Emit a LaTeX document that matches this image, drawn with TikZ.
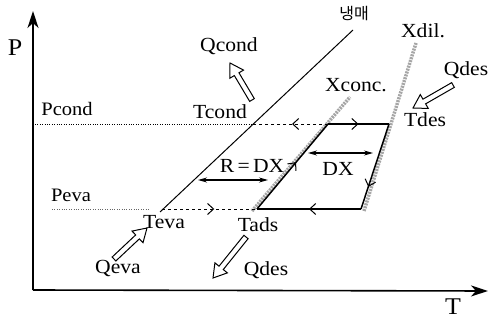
\documentclass[tikz,border=0pt]{standalone}
\usepackage{fontspec}
\setmainfont{Liberation Serif}[FakeStretch=1.08]
\newfontfamily\krfont{Noto Sans CJK KR}
\usetikzlibrary{arrows.meta,decorations.markings,calc}
\newcommand\hollowarrow[2]{%
  \draw[qarrow] let \p1=($(#2)-(#1)$), \n1={atan2(\y1,\x1)}, \n2={veclen(\x1,\y1)} in
    [shift={(#1)}, rotate=\n1] (0,-2.7) -- (\n2-13,-2.7) -- (\n2-13,-8) -- (\n2,0)
    -- (\n2-13,8) -- (\n2-13,2.7) -- (0,2.7) -- cycle;}
\begin{document}
\begin{tikzpicture}[x=1pt,y=-1pt,
  lbl/.style={inner sep=0pt, font=\fontsize{20}{24}\selectfont},
  axislbl/.style={inner sep=0pt, font=\fontsize{24}{28}\selectfont},
  axis/.style={line width=1.6pt, -{Stealth[length=17pt,width=11pt,inset=5pt]}},
  refline/.style={line width=1pt},
  concline/.style={line width=3.5pt, black!35, dash pattern=on 2pt off 1pt},
  dotline/.style={line width=0.6pt, dash pattern=on 0.8pt off 1.6pt},
  dashline/.style={line width=0.8pt, dash pattern=on 3pt off 3pt},
  cycline/.style={line width=1.5pt},
  midarrow/.style={postaction={decorate, decoration={markings,
     mark=at position #1 with {\arrow[line width=1pt]{Straight Barb[length=6pt,width=11pt]}}}}},
  dbl/.style={line width=1.2pt, {Stealth[length=9pt,width=5pt]}-{Stealth[length=9pt,width=5pt]}},
  qarrow/.style={line width=1pt, line join=miter, fill=white},
]
\useasboundingbox (0,0) rectangle (489,320);

% axes
\coordinate (O) at (33,290);
\coordinate (Ptop) at (33,11);
\coordinate (Tend) at (488,291);
\draw[axis] (O) -- (Ptop);
\draw[axis] (O) -- (Tend);
\node[axislbl] (P) at (15,48) {P};
\node[axislbl] (T) at (453,307) {T};

% refrigerant line
\coordinate (R1) at (160,212);
\coordinate (R2) at (353,30);
\draw[refline] (R1) -- (R2);
\node[inner sep=0pt, font=\fontsize{16}{18}\selectfont\krfont] (ref) at (354,14) {냉매};

% concentration lines
\coordinate (XcB) at (252,211);
\coordinate (XcT) at (350,97);
\coordinate (XdB) at (364,211);
\coordinate (XdT) at (416,43);
\draw[concline] (XcB) -- (XcT);
\draw[concline] (XdB) -- (XdT);
\node[lbl] (xconc) at (356,85) {Xconc.};
\node[lbl] (xdil) at (423,31) {Xdil.};

% cycle corners
\coordinate (A) at (257,209);
\coordinate (B) at (328,124);
\coordinate (C) at (389,124);
\coordinate (D) at (361,209);
\coordinate (Tc) at (253,124);

% pressure levels
\coordinate (Pc0) at (35,124);
\coordinate (Pe0) at (52,209);
\coordinate (Pe1) at (150,209);
\coordinate (Pe2) at (162,209);
\draw[dotline] (Pc0) -- (Tc);
\draw[dotline, black!60] (Pe0) -- (Pe1);
\draw[dashline, midarrow=0.48] (B) -- (Tc);
\draw[dashline, midarrow=0.55] (Pe2) -- (A);

% cycle
\draw[cycline, midarrow=0.55] (A) -- (B);
\draw[cycline, midarrow=0.5] (B) -- (C);
\draw[cycline, midarrow=0.74] (C) -- (D);
\draw[cycline, midarrow=0.5] (D) -- (A);

% DX arrows
\coordinate (r1) at (198,180);
\coordinate (r2) at (268,180);
\draw[dbl] (r1) -- (r2);
\node[lbl] (rdx) at (252,166) {R\,=\,DX};
\coordinate (d1) at (308,153);
\coordinate (d2) at (373,153);
\draw[dbl] (d1) -- (d2);
\node[lbl] (dx) at (338,169) {DX};

% labels
\node[lbl, font=\fontsize{19}{22}\selectfont] (pcond) at (67,109) {Pcond};
\node[lbl, font=\fontsize{19}{22}\selectfont] (peva) at (71,195) {Peva};
\node[lbl] (qcond) at (229,46) {Qcond};
\node[lbl] (tcond) at (220,112) {Tcond};
\node[lbl] (qdes1) at (466,70) {Qdes};
\node[lbl] (tdes) at (425,120) {Tdes};
\node[lbl] (teva) at (164,222) {Teva};
\node[lbl] (tads) at (258,225) {Tads};
\node[lbl] (qeva) at (118,268) {Qeva};
\node[lbl] (qdes2) at (266,270) {Qdes};

% heat arrows
\coordinate (qc1) at (252,100);
\coordinate (qc2) at (230,63);
\hollowarrow{qc1}{qc2}
\coordinate (qd1) at (453,85);
\coordinate (qd2) at (413,108);
\hollowarrow{qd1}{qd2}
\coordinate (qe1) at (114,259);
\coordinate (qe2) at (147,228);
\hollowarrow{qe1}{qe2}
\coordinate (qa1) at (246,237);
\coordinate (qa2) at (213,278);
\hollowarrow{qa1}{qa2}
\end{tikzpicture}
\end{document}
